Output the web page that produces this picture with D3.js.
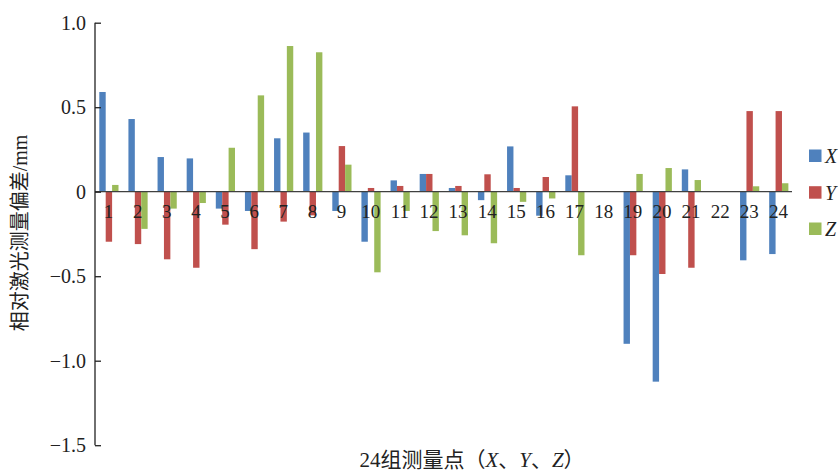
<!DOCTYPE html>
<html>
<head>
<meta charset="utf-8">
<script src="https://cdn.jsdelivr.net/npm/d3@7"></script>
<style>
  html, body { margin: 0; padding: 0; background: #fff; }
  svg { display: block; }
</style>
</head>
<body>
<svg id="chart" width="838" height="471"></svg>
<script>
// Measurement groups 1–24
const categories = ["1","2","3","4","5","6","7","8","9","10","11","12","13","14","15","16","17","18","19","20","21","22","23","24"];
const seriesNames = ["X", "Y", "Z"];
const xValues = [0.59, 0.43, 0.205, 0.197, -0.10, -0.114, 0.316, 0.35, -0.114, -0.296, 0.067, 0.105, 0.022, -0.05, 0.268, -0.142, 0.097, 0, -0.90, -1.124, 0.132, 0, -0.406, -0.369];
const yValues = [-0.296, -0.31, -0.40, -0.45, -0.195, -0.34, -0.177, -0.14, 0.27, 0.022, 0.034, 0.105, 0.034, 0.103, 0.022, 0.087, 0.505, 0, -0.376, -0.487, -0.45, 0, 0.477, 0.477];
const zValues = [0.04, -0.22, -0.10, -0.067, 0.26, 0.57, 0.862, 0.825, 0.16, -0.477, -0.114, -0.233, -0.258, -0.305, -0.06, -0.04, -0.376, 0, 0.105, 0.14, 0.069, 0, 0.032, 0.05];
const yTicks = [1.0, 0.5, 0, -0.5, -1.0, -1.5];
const colors = ["#4F81BD", "#C0504D", "#9BBB59"];

const series = [xValues, yValues, zValues];
const svg = d3.select("#chart");
const serif = "'Liberation Serif', 'Times New Roman', serif";
const cjk = "'Liberation Serif', 'Noto Sans CJK SC', serif";

const plotLeft = 95, plotRight = 794, plotTop = 22.7, plotBottom = 445.2;

const x0 = d3.scaleBand().domain(categories).range([plotLeft, plotRight]).padding(0);
const x1 = d3.scaleBand().domain(seriesNames).range([4.3, 4.3 + 19.2]).padding(0);
const y = d3.scaleLinear().domain([-1.5, 1.0]).range([plotBottom, plotTop]);

// Bars
const groups = svg.append("g").selectAll("g")
  .data(categories)
  .join("g")
  .attr("transform", d => `translate(${x0(d)},0)`);

groups.selectAll("rect")
  .data((d, i) => seriesNames.map((s, k) => ({ s, v: series[k][i], k })).filter(e => e.v !== 0))
  .join("rect")
  .attr("x", d => x1(d.s))
  .attr("width", x1.bandwidth())
  .attr("y", d => y(Math.max(0, d.v)))
  .attr("height", d => Math.abs(y(d.v) - y(0)))
  .attr("fill", d => colors[d.k]);

// Zero line
svg.append("line")
  .attr("x1", plotLeft).attr("x2", plotRight - 2)
  .attr("y1", y(0)).attr("y2", y(0))
  .attr("stroke", "#404040").attr("stroke-width", 1.3);

// Y axis
const yAxis = d3.axisRight(y)
  .tickValues(yTicks)
  .tickSize(6)
  .tickFormat(() => "");
const ya = svg.append("g").attr("transform", `translate(${plotLeft},0)`).call(yAxis);
ya.select(".domain").attr("stroke", "#222").attr("stroke-width", 1.3).attr("d", `M0,${plotTop}V${plotBottom}`);
ya.selectAll(".tick line").attr("stroke", "#222").attr("stroke-width", 1.3);

// Y tick labels
svg.append("g").selectAll("text")
  .data(yTicks)
  .join("text")
  .attr("x", 86)
  .attr("y", d => y(d))
  .attr("dy", "0.35em")
  .attr("text-anchor", "end")
  .attr("font-family", serif)
  .attr("font-size", 20)
  .attr("fill", "#222")
  .text(d => d === 0 ? "0" : d3.format(".1f")(d).replace("-", "\u2212"));

// Category labels below zero line
svg.append("g").selectAll("text")
  .data(categories)
  .join("text")
  .attr("x", d => x0(d) + x0.bandwidth() / 2 - 1)
  .attr("y", y(0) + 20)
  .attr("dy", "0.35em")
  .attr("text-anchor", "middle")
  .attr("font-family", serif)
  .attr("font-size", 19)
  .attr("fill", "#222")
  .text(d => d);

// Y axis title
svg.append("text")
  .attr("transform", "translate(27,233) rotate(-90)")
  .attr("text-anchor", "middle")
  .attr("font-family", cjk)
  .attr("font-size", 20)
  .attr("fill", "#222")
  .text("相对激光测量偏差/mm");

// X axis title
const xt = svg.append("text")
  .attr("x", 472)
  .attr("y", 467)
  .attr("text-anchor", "middle")
  .attr("font-family", cjk)
  .attr("font-size", 21)
  .attr("fill", "#222");
xt.append("tspan").text("24组测量点（");
xt.append("tspan").attr("font-style", "italic").text("X");
xt.append("tspan").text("、");
xt.append("tspan").attr("font-style", "italic").text("Y");
xt.append("tspan").text("、");
xt.append("tspan").attr("font-style", "italic").text("Z");
xt.append("tspan").text("）");

// Legend
const legendY = [156, 192.7, 229];
const lg = svg.append("g").selectAll("g")
  .data(seriesNames)
  .join("g")
  .attr("transform", (d, i) => `translate(809,${legendY[i]})`);
lg.append("rect")
  .attr("x", 0).attr("y", -6.5)
  .attr("width", 12.5).attr("height", 12.5)
  .attr("fill", (d, i) => colors[i]);
lg.append("text")
  .attr("x", 16).attr("y", 0)
  .attr("dy", "0.35em")
  .attr("font-family", serif)
  .attr("font-style", "italic")
  .attr("font-size", 20)
  .attr("fill", "#222")
  .text(d => d);
</script>
</body>
</html>
